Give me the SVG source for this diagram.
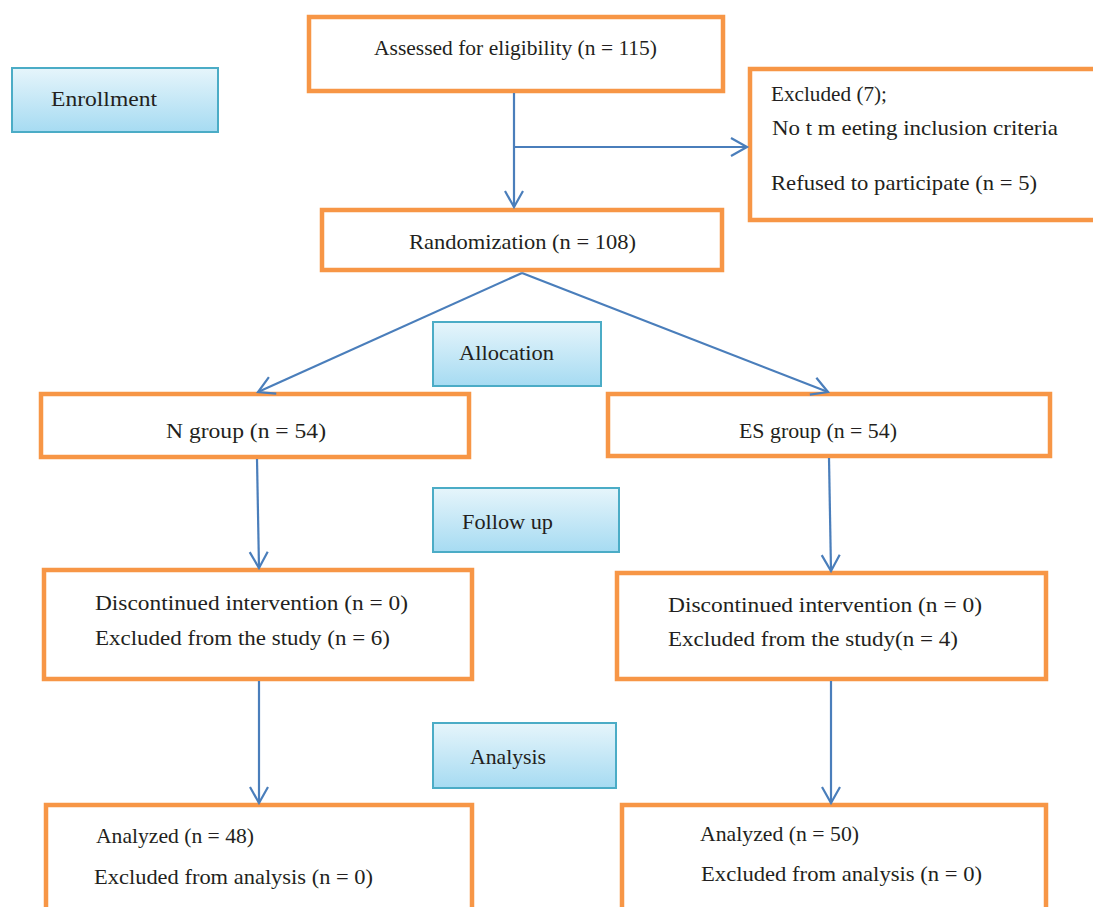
<svg xmlns="http://www.w3.org/2000/svg" width="1093" height="907" viewBox="0 0 1093 907">
<defs>
<linearGradient id="blueGrad" x1="0" y1="0" x2="0" y2="1">
<stop offset="0" stop-color="#E6F5FB"/>
<stop offset="1" stop-color="#A6DBF2"/>
</linearGradient>
<marker id="arrow" markerUnits="userSpaceOnUse" markerWidth="22" markerHeight="22" refX="18" refY="10" orient="auto" overflow="visible">
<path d="M2,1 L18,10 L2,19" fill="none" stroke="#4A7EBB" stroke-width="2.2"/>
</marker>
</defs>
<style>
.box{fill:#FFFFFF;stroke:#F79646;stroke-width:4.5}
.stage{fill:url(#blueGrad);stroke:#4BACC6;stroke-width:2}
.t{font-family:"Liberation Serif","DejaVu Serif",serif;font-size:21px;fill:#231F20}
.c{fill:none;stroke:#4A7EBB;stroke-width:2.2;marker-end:url(#arrow)}
</style>
<rect width="1093" height="907" fill="#FFFFFF"/>

<g id="enrollment">
<rect class="stage" x="12" y="68" width="206" height="64"/>
<text class="t" x="51" y="106" textLength="106" lengthAdjust="spacingAndGlyphs">Enrollment</text>
</g>

<g id="assessed">
<rect class="box" x="309" y="17" width="414" height="74"/>
<text class="t" x="374" y="55" textLength="283" lengthAdjust="spacingAndGlyphs">Assessed for eligibility (n = 115)</text>
</g>

<g id="excluded">
<rect class="box" x="750" y="69" width="360" height="151"/>
<text class="t" x="771" y="101" textLength="116" lengthAdjust="spacingAndGlyphs">Excluded (7);</text>
<text class="t" x="772" y="135" textLength="286" lengthAdjust="spacingAndGlyphs">No t m eeting inclusion criteria</text>
<text class="t" x="771" y="190" textLength="266" lengthAdjust="spacingAndGlyphs">Refused to participate (n = 5)</text>
</g>

<g id="randomization">
<rect class="box" x="322" y="210" width="400" height="60"/>
<text class="t" x="409" y="249" textLength="227" lengthAdjust="spacingAndGlyphs">Randomization (n = 108)</text>
</g>

<g id="allocation">
<rect class="stage" x="433" y="322" width="168" height="64"/>
<text class="t" x="459" y="360" textLength="95" lengthAdjust="spacingAndGlyphs">Allocation</text>
</g>

<g id="n-group">
<rect class="box" x="41" y="394" width="428" height="63"/>
<text class="t" x="166" y="438" textLength="160" lengthAdjust="spacingAndGlyphs">N group (n = 54)</text>
</g>

<g id="es-group">
<rect class="box" x="608" y="394" width="442" height="62"/>
<text class="t" x="739" y="438" textLength="158" lengthAdjust="spacingAndGlyphs">ES group (n = 54)</text>
</g>

<g id="follow-up">
<rect class="stage" x="433" y="488" width="186" height="64"/>
<text class="t" x="462" y="529" textLength="91" lengthAdjust="spacingAndGlyphs">Follow up</text>
</g>

<g id="n-followup">
<rect class="box" x="44" y="570" width="428" height="109"/>
<text class="t" x="95" y="610" textLength="313" lengthAdjust="spacingAndGlyphs">Discontinued intervention (n = 0)</text>
<text class="t" x="95" y="645" textLength="295" lengthAdjust="spacingAndGlyphs">Excluded from the study  (n = 6)</text>
</g>

<g id="es-followup">
<rect class="box" x="617" y="573" width="429" height="106"/>
<text class="t" x="668" y="612" textLength="314" lengthAdjust="spacingAndGlyphs">Discontinued intervention (n = 0)</text>
<text class="t" x="668" y="646" textLength="290" lengthAdjust="spacingAndGlyphs">Excluded from the study(n = 4)</text>
</g>

<g id="analysis">
<rect class="stage" x="433" y="723" width="183" height="65"/>
<text class="t" x="470" y="764" textLength="76" lengthAdjust="spacingAndGlyphs">Analysis</text>
</g>

<g id="n-analysis">
<rect class="box" x="46" y="805" width="426" height="130"/>
<text class="t" x="96" y="843" textLength="158" lengthAdjust="spacingAndGlyphs">Analyzed (n = 48)</text>
<text class="t" x="94" y="884" textLength="279" lengthAdjust="spacingAndGlyphs">Excluded from analysis (n = 0)</text>
</g>

<g id="es-analysis">
<rect class="box" x="622" y="805" width="424" height="130"/>
<text class="t" x="700" y="841" textLength="159" lengthAdjust="spacingAndGlyphs">Analyzed (n = 50)</text>
<text class="t" x="701" y="881" textLength="281" lengthAdjust="spacingAndGlyphs">Excluded from analysis (n = 0)</text>
</g>

<g id="connectors">
<line class="c" x1="514" y1="93" x2="514" y2="207"/>
<line class="c" x1="514" y1="147" x2="747" y2="147"/>
<line class="c" x1="522" y1="273" x2="258" y2="392"/>
<line class="c" x1="522" y1="273" x2="828" y2="392"/>
<line class="c" x1="257" y1="459" x2="259" y2="568"/>
<line class="c" x1="829" y1="458" x2="831" y2="571"/>
<line class="c" x1="259" y1="681" x2="259" y2="803"/>
<line class="c" x1="831" y1="681" x2="831" y2="803"/>
</g>
</svg>
